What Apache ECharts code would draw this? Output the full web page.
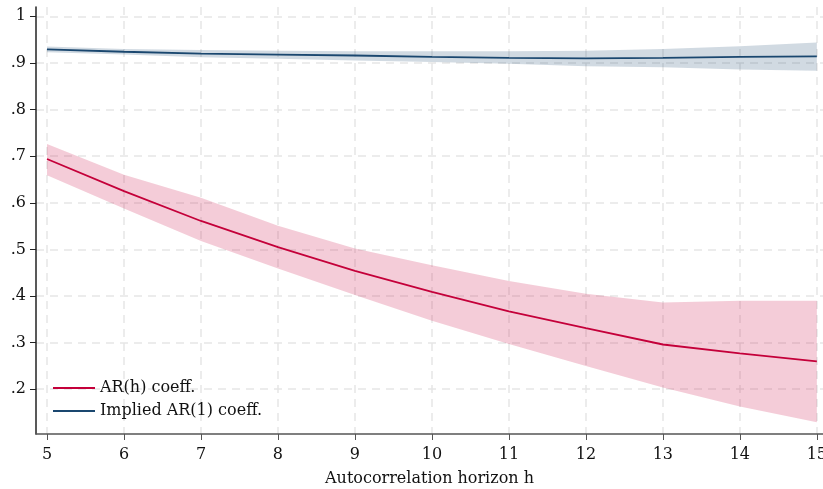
<!DOCTYPE html>
<html lang="en">
<head>
<meta charset="UTF-8">
<title>AR coefficients</title>
<script src="https://cdn.jsdelivr.net/npm/echarts@6/dist/echarts.min.js"></script>
</head>
<body style="margin:0">
<div id="main" style="width:823px;height:489px;"></div>
<script>
// horizon h
var horizons = [5, 6, 7, 8, 9, 10, 11, 12, 13, 14, 15];
// AR(h) coefficient and its band
var arH = [0.694, 0.625, 0.561, 0.505, 0.454, 0.409, 0.367, 0.331, 0.296, 0.277, 0.260];
var arHLow = [0.659, 0.588, 0.518, 0.459, 0.402, 0.347, 0.297, 0.250, 0.204, 0.163, 0.129];
var arHHigh = [0.726, 0.660, 0.611, 0.551, 0.502, 0.466, 0.432, 0.405, 0.386, 0.390, 0.390];
// implied AR(1) coefficient and its band
var ar1 = [0.929, 0.924, 0.920, 0.918, 0.916, 0.913, 0.911, 0.910, 0.911, 0.913, 0.914];
var ar1Low = [0.923, 0.918, 0.912, 0.909, 0.905, 0.902, 0.898, 0.893, 0.891, 0.886, 0.883];
var ar1High = [0.935, 0.930, 0.928, 0.926, 0.925, 0.925, 0.925, 0.926, 0.930, 0.936, 0.944];
var yTicks = [0.2, 0.3, 0.4, 0.5, 0.6, 0.7, 0.8, 0.9, 1];

function pairs(vals) {
    return horizons.map(function (h, i) { return [h, vals[i]]; });
}

// band polygon: upper edge left to right, lower edge back
function band(lo, hi, color) {
    return {
        type: 'custom', silent: true, z: 1,
        data: [0],
        renderItem: function (params, api) {
            var pts = [];
            horizons.forEach(function (h, i) { pts.push(api.coord([h, hi[i]])); });
            for (var i = horizons.length - 1; i >= 0; i--) pts.push(api.coord([horizons[i], lo[i]]));
            return { type: 'polygon', shape: { points: pts }, style: { fill: color } };
        }
    };
}

var red = '#c4003a', navy = '#1a476f';
var font = 'DejaVu Serif';
var gridLine = { show: true, lineStyle: { color: '#e6e6e6', width: 1.5, type: [8, 6] } };

var chart = echarts.init(document.getElementById('main'));
chart.setOption({
    animation: false,
    textStyle: { fontFamily: font },
    grid: { left: 36, right: 0, top: 7, bottom: 55, outerBoundsMode: 'none' },
    legend: {
        orient: 'vertical', left: 48, top: 375, itemGap: 7,
        itemWidth: 42, itemHeight: 2, icon: 'rect',
        textStyle: { fontFamily: font, fontSize: 16, color: '#111' },
        data: ['AR(h) coeff.', 'Implied AR(1) coeff.']
    },
    xAxis: {
        type: 'value', min: 4.857, max: 15.08,
        name: 'Autocorrelation horizon h', nameLocation: 'middle', nameGap: 37,
        nameTextStyle: { fontFamily: font, fontSize: 16, color: '#111' },
        axisLine: { lineStyle: { color: '#555', width: 1.5 } },
        axisTick: { customValues: horizons, length: 6, lineStyle: { color: '#555' } },
        axisLabel: { customValues: horizons, fontFamily: font, fontSize: 16, color: '#111', margin: 13 },
        splitLine: Object.assign({ customValues: horizons }, gridLine)
    },
    yAxis: {
        type: 'value', min: 0.104, max: 1.02,
        axisLine: { show: true, lineStyle: { color: '#222', width: 1.5 } },
        axisTick: { show: true, customValues: yTicks, length: 6, lineStyle: { color: '#222' } },
        axisLabel: {
            customValues: yTicks, fontFamily: font, fontSize: 16, color: '#111', margin: 10,
            formatter: function (v) { return v === 1 ? '1' : String(+v.toFixed(1)).replace(/^0/, ''); }
        },
        splitLine: Object.assign({ customValues: yTicks }, gridLine)
    },
    series: [
        band(arHLow, arHHigh, 'rgba(200,0,60,0.2)'),
        band(ar1Low, ar1High, 'rgba(26,71,111,0.2)'),
        { name: 'AR(h) coeff.', type: 'line', data: pairs(arH), symbol: 'none', z: 3,
          itemStyle: { color: red }, lineStyle: { color: red, width: 1.8 } },
        { name: 'Implied AR(1) coeff.', type: 'line', data: pairs(ar1), symbol: 'none', z: 3,
          itemStyle: { color: navy }, lineStyle: { color: navy, width: 1.8 } }
    ]
});
</script>
</body>
</html>
